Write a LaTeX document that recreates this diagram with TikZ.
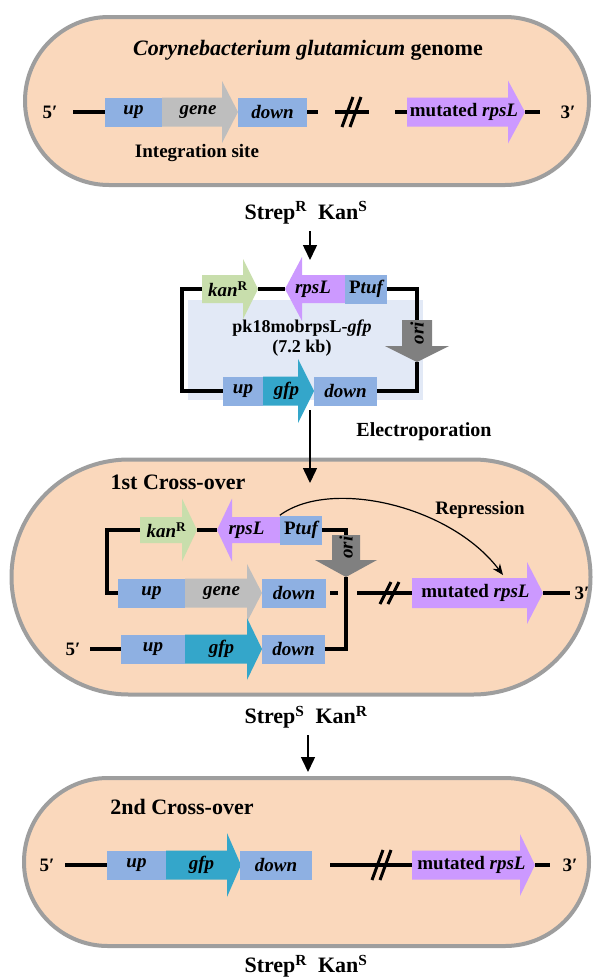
\documentclass[tikz,border=0pt]{standalone}
\usepackage{fontspec}
\setmainfont{Liberation Serif}
\usetikzlibrary{arrows.meta}

\definecolor{peach}{RGB}{250,216,188}
\definecolor{capgray}{RGB}{158,158,158}
\definecolor{boxblue}{RGB}{142,176,226}
\definecolor{genegray}{RGB}{190,190,190}
\definecolor{gfpteal}{RGB}{52,166,202}
\definecolor{rpslpurple}{RGB}{204,153,255}
\definecolor{kangreen}{RGB}{200,222,172}
\definecolor{origray}{RGB}{128,128,128}
\definecolor{plasbg}{RGB}{226,233,246}

\newcommand{\genefont}{\bfseries\itshape\fontsize{19}{21}\selectfont}
\newcommand{\lblfont}[1]{\bfseries\fontsize{#1}{#1}\selectfont}

% gene arrow: name, tail x, head base x, tip x, y, half body, half head, colour, label
\newcommand{\genearrow}[9]{%
  \fill[#8] (#2,#5-#6) -- (#3,#5-#6) -- (#3,#5-#7) -- (#4,#5) -- (#3,#5+#7) -- (#3,#5+#6) -- (#2,#5+#6) -- cycle;
  \coordinate (#1-tail) at (#2,#5);
  \coordinate (#1-tip) at (#4,#5);
  \node[genelabel] (#1) at ({(#2+#4)/2-2},#5) {#9};}

% ori arrow pointing down: name, x, top y, head base y, tip y, half body, half head
\newcommand{\oriarrow}[7]{%
  \fill[origray] (#2-#6,#3) -- (#2+#6,#3) -- (#2+#6,#4) -- (#2+#7,#4) -- (#2,#5) -- (#2-#7,#4) -- (#2-#6,#4) -- cycle;
  \coordinate (#1-top) at (#2,#3);
  \coordinate (#1-tip) at (#2,#5);
  \node[genelabel, rotate=90] (#1) at (#2,{(#3+#4)/2}) {ori};}

% break mark on the chromosome
\newcommand{\breakmark}[3]{%
  \draw[line width=3pt] (#1-10,#2+#3) -- (#1+1,#2-#3);
  \draw[line width=3pt] (#1-2,#2+#3) -- (#1+9,#2-#3);}

\tikzset{
  capsule/.style={draw=capgray, line width=4pt, fill=peach},
  dnabox/.style={fill=boxblue, inner sep=0pt, minimum height=29pt, font=\genefont},
  genelabel/.style={inner sep=0pt, font=\genefont},
  dna/.style={line width=4pt},
  stepflow/.style={line width=1.5pt, -{Triangle[width=14pt,length=15pt]}},
  plain/.style={inner sep=0pt}
}

\begin{document}
\begin{tikzpicture}[x=1pt, y=-1pt]
  \useasboundingbox (0,0) rectangle (595,980);

  %% ---------- genome ----------
  \draw[capsule, rounded corners=83.9pt] (25,17) rectangle (589,185);
  \node[plain, font=\lblfont{22}] (titleA) at (308,50) {\textit{Corynebacterium glutamicum} genome};

  \node[plain, font=\lblfont{19}] (fiveA) at (50,112) {5′};
  \node[dnabox, minimum width=57pt] (upA) at (133.5,112) {up};
  \genearrow{geneA}{162}{222}{238}{112}{14.5}{31}{genegray}{gene}
  \node[dnabox, minimum width=69pt] (downA) at (272.5,112) {down};
  \genearrow{mutA}{407}{508}{525}{112}{14.5}{31.5}{rpslpurple}{\upshape mutated \itshape rpsL}
  \node[plain, font=\lblfont{19}] (threeA) at (568,112) {3′};
  \node[plain, font=\lblfont{19}] (siteA) at (197,153) {Integration site};

  \coordinate (endA) at (73,112);
  \draw[dna] (endA) -- (upA.west);
  \draw[dna] (downA.east) -- ++(11,0);
  \draw[dna] (335,112) -- (369,112);
  \breakmark{352}{112}{15}
  \draw[dna] (mutA-tail) -- ++(-12,0);
  \draw[dna] (mutA-tip) -- ++(15,0);

  \node[plain, font=\lblfont{22}] (strepA) at (306,213) {Strep\textsuperscript{R}\ \ Kan\textsuperscript{S}};

  %% ---------- plasmid ----------
  \fill[plasbg] (188,300) rectangle (423,400);
  \genearrow{kanP}{202}{243}{258}{289}{14}{30}{kangreen}{kan\textsuperscript{\upshape R}}
  \genearrow{rpsP}{345}{302}{285}{289}{14}{32}{rpslpurple}{rpsL}
  \node[dnabox, minimum width=42pt] (ptufP) at (366,289) {\upshape P\itshape tuf};
  \oriarrow{oriP}{417}{320}{346}{362}{15}{32}
  \node[dnabox, minimum width=40pt] (upP) at (243,391) {up};
  \genearrow{gfpP}{263}{298}{314}{391}{14.5}{32}{gfpteal}{gfp}
  \node[dnabox, minimum width=63pt] (downP) at (345.5,391) {down};
  \node[plain, font=\lblfont{18}, align=center] (nameP) at (302,338) {pk18mobrpsL-\textit{gfp}\\[2pt](7.2 kb)};

  \draw[dna] (kanP-tail) -- ++(-20,0) |- (upP.west);
  \draw[dna] (kanP-tip) -- (rpsP-tip);
  \draw[dna] (ptufP.east) -| (oriP-top);
  \draw[dna] (oriP-tip) |- (downP.east);

  \node[plain, font=\lblfont{20}] (elecP) at (424,432) {Electroporation};

  %% ---------- first cross-over ----------
  \draw[capsule, rounded corners=117.4pt] (11.5,459.5) rectangle (590.5,694.5);
  \node[plain, font=\lblfont{22}] (titleB) at (178,482) {1st Cross-over};

  \genearrow{kanB}{140}{182}{197}{530}{13}{31.5}{kangreen}{kan\textsuperscript{\upshape R}}
  \genearrow{rpsB}{280}{232}{217}{530}{13}{31.5}{rpslpurple}{rpsL}
  \node[dnabox, minimum width=42pt] (ptufB) at (301,530) {\upshape P\itshape tuf};
  \oriarrow{oriB}{346}{535}{560}{577}{14}{31}

  \node[dnabox, minimum width=67pt] (upB) at (151.5,593) {up};
  \genearrow{geneB}{185}{247}{262}{593}{14.5}{29}{genegray}{gene}
  \node[dnabox, minimum width=64pt] (downB) at (294,593) {down};
  \genearrow{mutB}{412}{527}{543}{593}{15}{31}{rpslpurple}{\upshape mutated \itshape rpsL}
  \node[plain, font=\lblfont{19}] (threeB) at (582,593) {3′};

  \node[plain, font=\lblfont{19}] (fiveC) at (73,649) {5′};
  \node[dnabox, minimum width=64pt] (upC) at (153,649) {up};
  \genearrow{gfpC}{185}{247}{262}{649}{14.5}{31}{gfpteal}{gfp}
  \node[dnabox, minimum width=63pt] (downC) at (293.5,649) {down};

  \draw[dna] (kanB-tail) -- ++(-33,0) |- (upB.west);
  \draw[dna] (kanB-tip) -- (rpsB-tip);
  \draw[dna] (ptufB.east) -| (oriB-top);
  \draw[dna] (oriB-tip) |- (downC.east);
  \draw[dna] (downB.east) ++(4,0) -- ++(8,0);
  \coordinate (brkB) at (357,593);
  \draw[dna] (brkB) -- (mutB-tail);
  \breakmark{390}{593}{11}
  \draw[dna] (mutB-tip) -- ++(27,0);
  \coordinate (endC) at (90,649);
  \draw[dna] (endC) -- (upC.west);

  % repression by rpsL
  \coordinate (repEnd) at (503,575);
  \draw[line width=1.2pt, -{Stealth[width=9pt,length=11pt]}] (ptufB.north west) .. controls (330,478) and (450,505) .. (repEnd);
  \node[plain, font=\lblfont{19}] (repB) at (480,510) {Repression};

  \node[plain, font=\lblfont{22}] (strepB) at (306,717) {Strep\textsuperscript{S}\ \ Kan\textsuperscript{R}};

  %% ---------- second cross-over ----------
  \draw[capsule, rounded corners=83.9pt] (24,778) rectangle (589,946);
  \node[plain, font=\lblfont{22}] (titleD) at (182,807) {2nd Cross-over};

  \node[plain, font=\lblfont{19}] (fiveD) at (47,865) {5′};
  \node[dnabox, minimum width=59pt] (upD) at (136.5,865) {up};
  \genearrow{gfpD}{166}{227}{241}{865}{14.5}{32}{gfpteal}{gfp}
  \node[dnabox, minimum width=72pt] (downD) at (276,865) {down};
  \genearrow{mutD}{412}{520}{535}{865}{14.5}{31}{rpslpurple}{\upshape mutated \itshape rpsL}
  \node[plain, font=\lblfont{19}] (threeD) at (570,865) {3′};

  \coordinate (endD) at (65,865);
  \draw[dna] (endD) -- (upD.west);
  \coordinate (brkD) at (330,865);
  \draw[dna] (brkD) -- (mutD-tail);
  \breakmark{382}{865}{15}
  \draw[dna] (mutD-tip) -- ++(15,0);

  \node[plain, font=\lblfont{22}] (strepD) at (306,966) {Strep\textsuperscript{R}\ \ Kan\textsuperscript{S}};

  %% ---------- flow arrows ----------
  \draw[stepflow] (strepA.south -| 310,0) ++(0,7) -- (310,260);
  \draw[stepflow] (310,410) -- (310,483);
  \draw[stepflow] (strepB.south -| 308,0) ++(0,7) -- (308,772);
\end{tikzpicture}
\end{document}
